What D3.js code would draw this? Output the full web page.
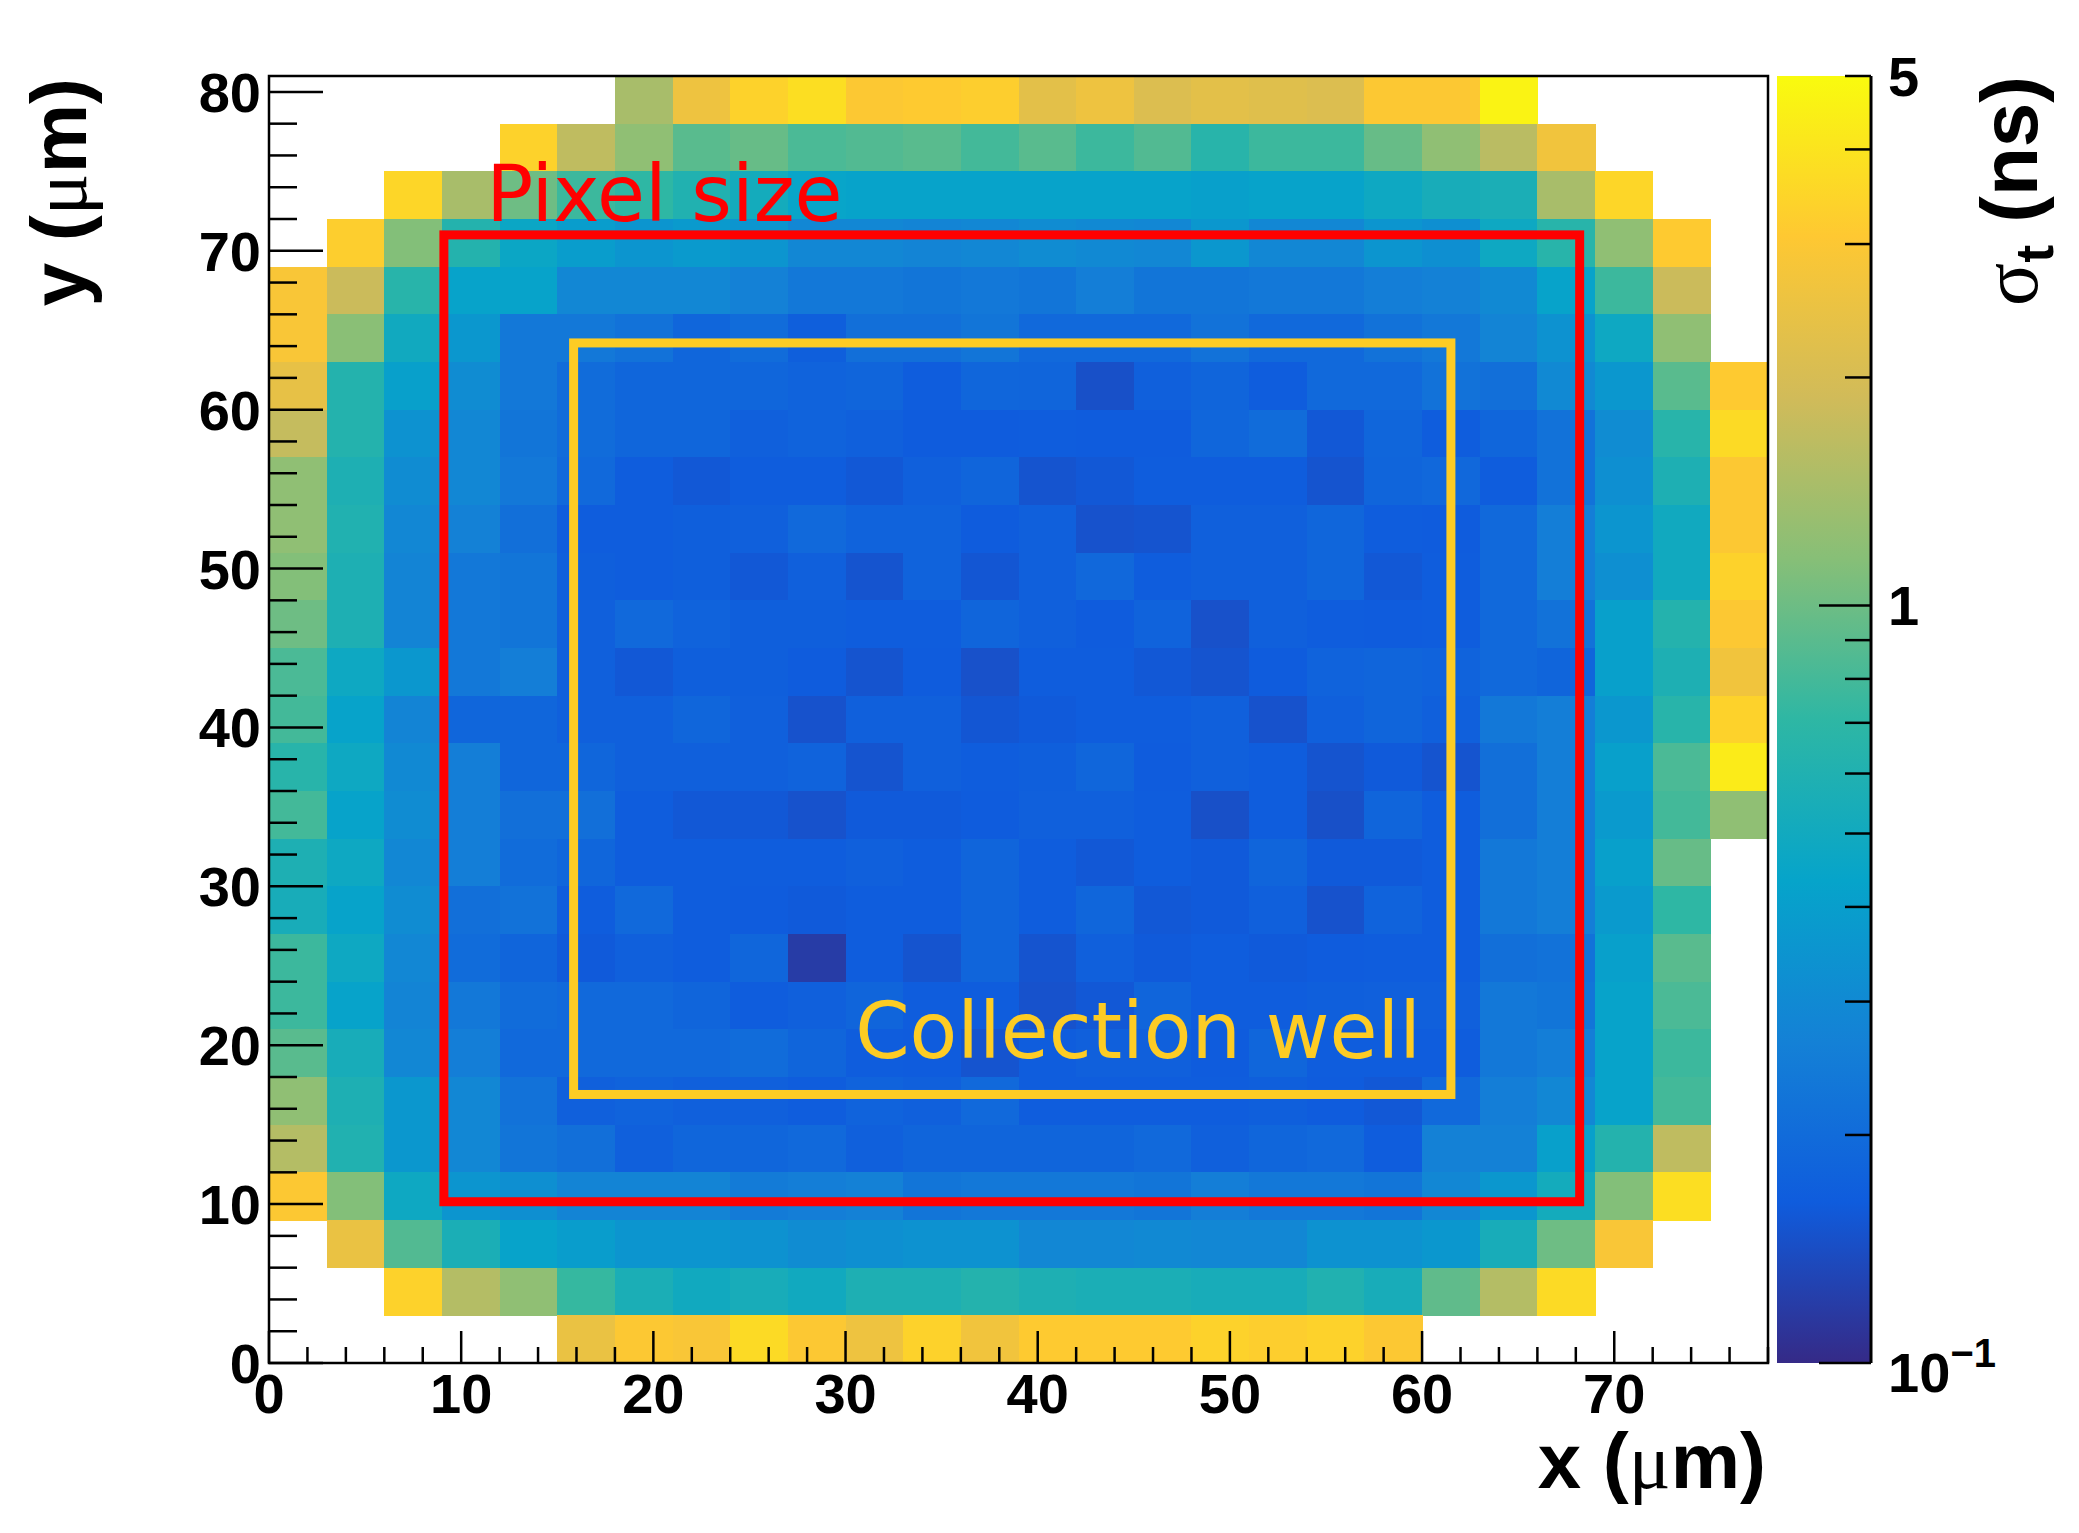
<!DOCTYPE html>
<html>
<head>
<meta charset="utf-8">
<script src="https://cdn.jsdelivr.net/npm/d3@7"></script>
<style>
  body { margin: 0; background: #fff; }
  .num { font-family: "Liberation Sans", Arial, sans-serif; font-weight: bold; }
  .greek { font-family: "Liberation Serif", "DejaVu Serif", serif; font-weight: normal; }
  .note { font-family: "DejaVu Sans", sans-serif; }
</style>
</head>
<body>
<div id="chart"></div>
<script>
// bin edges (um)
const xEdges = [0, 3, 6, 9, 12, 15, 18, 21, 24, 27, 30, 33, 36, 39, 42, 45, 48, 51, 54, 57, 60, 63, 66, 69, 72, 75, 78];
const yEdges = [0, 3, 6, 9, 12, 15, 18, 21, 24, 27, 30, 33, 36, 39, 42, 45, 48, 51, 54, 57, 60, 63, 66, 69, 72, 75, 78, 81];

// sigma_t (ns) per bin, top row (y 78-81) first, left to right; null = empty bin
const sigmaRows = [
  [null, null, null, null, null, null, 1.43, 2.57, 3.38, 3.80, 3.01, 3.13, 3.25, 2.29, 2.57, 2.11, 2.29, 2.20, 2.11, 3.01, 3.01, 4.62, null, null, null, null],
  [null, null, null, null, 3.38, 1.67, 1.22, 0.894, 0.967, 0.827, 0.860, 0.894, 0.795, 0.894, 0.765, 0.860, 0.654, 0.765, 0.765, 0.967, 1.22, 1.61, 2.67, null, null, null],
  [null, null, 3.52, 1.43, 1.006, 0.765, 0.707, 0.605, 0.517, 0.442, 0.425, 0.425, 0.425, 0.425, 0.425, 0.425, 0.409, 0.425, 0.425, 0.478, 0.538, 0.559, 1.43, 3.52, null, null],
  [null, 3.25, 1.13, 0.629, 0.460, 0.393, 0.350, 0.378, 0.350, 0.288, 0.288, 0.277, 0.288, 0.311, 0.299, 0.288, 0.364, 0.288, 0.288, 0.350, 0.323, 0.478, 0.654, 1.22, 3.13, null],
  [2.89, 1.81, 0.654, 0.425, 0.425, 0.288, 0.288, 0.288, 0.266, 0.236, 0.236, 0.227, 0.236, 0.227, 0.256, 0.227, 0.227, 0.236, 0.236, 0.256, 0.266, 0.299, 0.425, 0.765, 1.81, null],
  [2.89, 1.18, 0.497, 0.364, 0.236, 0.236, 0.219, 0.187, 0.202, 0.170, 0.210, 0.210, 0.227, 0.194, 0.194, 0.194, 0.219, 0.194, 0.194, 0.219, 0.236, 0.277, 0.336, 0.478, 1.22, null],
  [2.38, 0.629, 0.409, 0.311, 0.236, 0.202, 0.187, 0.187, 0.187, 0.180, 0.183, 0.166, 0.187, 0.183, 0.145, 0.173, 0.183, 0.166, 0.194, 0.194, 0.219, 0.210, 0.299, 0.364, 0.894, 3.13],
  [1.74, 0.629, 0.336, 0.288, 0.227, 0.202, 0.187, 0.187, 0.173, 0.180, 0.173, 0.163, 0.163, 0.166, 0.163, 0.163, 0.187, 0.202, 0.157, 0.187, 0.166, 0.187, 0.219, 0.311, 0.654, 3.66],
  [1.22, 0.582, 0.311, 0.288, 0.236, 0.194, 0.166, 0.157, 0.166, 0.166, 0.157, 0.173, 0.183, 0.151, 0.157, 0.166, 0.166, 0.166, 0.151, 0.183, 0.191, 0.166, 0.219, 0.323, 0.582, 3.01],
  [1.22, 0.605, 0.288, 0.266, 0.210, 0.166, 0.166, 0.170, 0.173, 0.194, 0.180, 0.180, 0.163, 0.173, 0.148, 0.151, 0.173, 0.173, 0.187, 0.166, 0.163, 0.194, 0.256, 0.350, 0.497, 3.01],
  [1.13, 0.582, 0.277, 0.236, 0.227, 0.170, 0.166, 0.170, 0.157, 0.173, 0.151, 0.180, 0.154, 0.173, 0.191, 0.166, 0.173, 0.173, 0.187, 0.157, 0.166, 0.194, 0.256, 0.323, 0.497, 3.38],
  [1.006, 0.582, 0.277, 0.236, 0.227, 0.173, 0.194, 0.180, 0.170, 0.170, 0.166, 0.166, 0.183, 0.173, 0.163, 0.180, 0.146, 0.173, 0.166, 0.163, 0.166, 0.194, 0.219, 0.409, 0.629, 3.01],
  [0.827, 0.478, 0.364, 0.236, 0.256, 0.173, 0.157, 0.170, 0.170, 0.163, 0.151, 0.163, 0.146, 0.166, 0.166, 0.157, 0.151, 0.163, 0.180, 0.183, 0.180, 0.194, 0.183, 0.409, 0.582, 2.67],
  [0.795, 0.425, 0.277, 0.187, 0.187, 0.173, 0.173, 0.187, 0.173, 0.148, 0.173, 0.173, 0.154, 0.160, 0.166, 0.166, 0.173, 0.148, 0.173, 0.183, 0.173, 0.236, 0.256, 0.364, 0.654, 3.38],
  [0.654, 0.478, 0.299, 0.256, 0.187, 0.187, 0.173, 0.173, 0.173, 0.180, 0.151, 0.173, 0.166, 0.170, 0.187, 0.163, 0.173, 0.166, 0.151, 0.160, 0.151, 0.210, 0.256, 0.409, 0.827, 4.28],
  [0.795, 0.425, 0.311, 0.256, 0.210, 0.210, 0.166, 0.157, 0.157, 0.148, 0.160, 0.160, 0.163, 0.173, 0.173, 0.166, 0.145, 0.166, 0.145, 0.183, 0.166, 0.210, 0.256, 0.378, 0.795, 1.22],
  [0.582, 0.478, 0.288, 0.256, 0.202, 0.187, 0.166, 0.166, 0.166, 0.166, 0.173, 0.166, 0.183, 0.166, 0.157, 0.166, 0.160, 0.183, 0.160, 0.160, 0.166, 0.236, 0.256, 0.409, 0.967, null],
  [0.538, 0.425, 0.311, 0.210, 0.219, 0.166, 0.194, 0.166, 0.163, 0.160, 0.166, 0.166, 0.183, 0.166, 0.187, 0.157, 0.160, 0.173, 0.148, 0.180, 0.166, 0.236, 0.256, 0.378, 0.707, null],
  [0.765, 0.478, 0.288, 0.202, 0.183, 0.160, 0.173, 0.166, 0.187, 0.119, 0.166, 0.151, 0.183, 0.151, 0.173, 0.160, 0.166, 0.160, 0.163, 0.166, 0.166, 0.210, 0.219, 0.409, 0.894, null],
  [0.765, 0.425, 0.277, 0.236, 0.202, 0.194, 0.194, 0.183, 0.166, 0.173, 0.183, 0.166, 0.166, 0.148, 0.157, 0.183, 0.166, 0.166, 0.170, 0.173, 0.173, 0.236, 0.227, 0.425, 0.827, null],
  [0.894, 0.538, 0.288, 0.256, 0.194, 0.194, 0.194, 0.194, 0.202, 0.183, 0.166, 0.163, 0.151, 0.166, 0.173, 0.173, 0.163, 0.187, 0.166, 0.166, 0.166, 0.236, 0.256, 0.425, 0.765, null],
  [1.22, 0.582, 0.364, 0.288, 0.219, 0.173, 0.180, 0.173, 0.173, 0.166, 0.180, 0.173, 0.194, 0.166, 0.166, 0.166, 0.166, 0.170, 0.163, 0.157, 0.194, 0.256, 0.288, 0.425, 0.795, null],
  [1.55, 0.605, 0.364, 0.288, 0.227, 0.210, 0.173, 0.187, 0.187, 0.194, 0.173, 0.183, 0.183, 0.183, 0.183, 0.194, 0.173, 0.187, 0.194, 0.166, 0.266, 0.266, 0.409, 0.629, 1.67, null],
  [3.01, 1.13, 0.478, 0.350, 0.323, 0.277, 0.277, 0.277, 0.246, 0.256, 0.266, 0.227, 0.236, 0.236, 0.236, 0.227, 0.256, 0.236, 0.236, 0.227, 0.288, 0.364, 0.517, 1.13, 3.80, null],
  [null, 2.47, 0.860, 0.559, 0.425, 0.393, 0.350, 0.350, 0.336, 0.311, 0.323, 0.336, 0.336, 0.288, 0.288, 0.299, 0.288, 0.288, 0.336, 0.336, 0.364, 0.538, 1.006, 2.89, null, null],
  [null, null, 3.38, 1.55, 1.22, 0.735, 0.559, 0.497, 0.538, 0.497, 0.582, 0.582, 0.629, 0.582, 0.559, 0.559, 0.538, 0.538, 0.605, 0.538, 0.930, 1.55, 3.66, null, null, null],
  [null, null, null, null, null, 2.47, 3.01, 2.89, 3.66, 3.01, 2.57, 3.38, 2.67, 3.13, 3.13, 3.13, 3.38, 3.25, 3.38, 3.01, null, null, null, null, null, null]
];

// tick labels
const xTickValues = [0, 10, 20, 30, 40, 50, 60, 70];
const yTickValues = [0, 10, 20, 30, 40, 50, 60, 70, 80];
const zMajorTicks = [0.1, 1];
const zMinorTicks = [0.2, 0.3, 0.4, 0.5, 0.6, 0.7, 0.8, 0.9, 2, 3, 4, 5];
const zLabels = [[0.1, "10", "\u22121"], [1, "1", ""], [5, "5", ""]];

// annotation boxes (um)
const pixelBox = [9.1, 10.15, 68.2, 71.0];
const wellBox = [15.85, 16.9, 61.5, 64.2];

// ROOT kBird palette
const birdStops = [0, 0.125, 0.25, 0.375, 0.5, 0.625, 0.75, 0.875, 1];
const birdR = [0.2082, 0.0592, 0.0780, 0.0232, 0.1802, 0.5301, 0.8186, 0.9956, 0.9764];
const birdG = [0.1664, 0.3599, 0.5041, 0.6419, 0.7178, 0.7492, 0.7328, 0.7862, 0.9832];
const birdB = [0.5293, 0.8684, 0.8385, 0.7914, 0.6425, 0.4662, 0.3499, 0.1968, 0.0539];
const birdColors = birdStops.map((s, i) => d3.rgb(birdR[i] * 255, birdG[i] * 255, birdB[i] * 255).formatHex());

const W = 2079, H = 1533;
const frame = { left: 269, right: 1768, top: 76, bottom: 1363 };
const pal = { left: 1777, right: 1871 };

const svg = d3.select("#chart").append("svg")
  .attr("width", W).attr("height", H)
  .style("display", "block");

const x = d3.scaleLinear().domain([0, 78]).range([frame.left, frame.right]);
const y = d3.scaleLinear().domain([0, 81]).range([frame.bottom, frame.top]);
const zNorm = d3.scaleLog().domain([0.1, 5]).range([0, 1]).clamp(true);
const zAxisScale = d3.scaleLog().domain([0.1, 5]).range([frame.bottom, frame.top]);
const bird = d3.scaleLinear().domain(birdStops).range(birdColors).interpolate(d3.interpolateRgb);

// flatten bins
const cells = [];
sigmaRows.forEach((row, r) => {
  const j = sigmaRows.length - 1 - r;
  row.forEach((v, i) => {
    if (v !== null) cells.push({ x0: xEdges[i], x1: xEdges[i + 1], y0: yEdges[j], y1: yEdges[j + 1], v: v });
  });
});

// frame background
svg.append("rect")
  .attr("x", frame.left).attr("y", frame.top)
  .attr("width", frame.right - frame.left).attr("height", frame.bottom - frame.top)
  .attr("fill", "#fff");

svg.append("g")
  .selectAll("rect")
  .data(cells)
  .join("rect")
  .attr("x", d => x(d.x0))
  .attr("y", d => y(d.y1))
  .attr("width", d => x(d.x1) - x(d.x0) + 0.5)
  .attr("height", d => y(d.y0) - y(d.y1) + 0.5)
  .attr("fill", d => bird(zNorm(d.v)))
  .attr("shape-rendering", "crispEdges");

// frame
svg.append("rect")
  .attr("x", frame.left).attr("y", frame.top)
  .attr("width", frame.right - frame.left).attr("height", frame.bottom - frame.top)
  .attr("fill", "none").attr("stroke", "#000").attr("stroke-width", 2.5);

// x ticks (pointing up inside the frame)
const xg = svg.append("g");
xg.selectAll("line.minor")
  .data(d3.range(0, 79, 2))
  .join("line")
  .attr("x1", d => x(d)).attr("x2", d => x(d))
  .attr("y1", frame.bottom).attr("y2", d => frame.bottom - (d % 10 === 0 ? 32 : 16))
  .attr("stroke", "#000").attr("stroke-width", 2.5);
xg.selectAll("text")
  .data(xTickValues)
  .join("text")
  .attr("class", "num")
  .attr("x", d => x(d)).attr("y", 1413)
  .attr("text-anchor", "middle")
  .attr("font-size", 56)
  .text(d => d);

// y ticks (pointing right)
const yg = svg.append("g");
yg.selectAll("line")
  .data(d3.range(0, 81, 2))
  .join("line")
  .attr("x1", frame.left).attr("x2", d => frame.left + (d % 10 === 0 ? 54 : 28))
  .attr("y1", d => y(d)).attr("y2", d => y(d))
  .attr("stroke", "#000").attr("stroke-width", 2.5);
yg.selectAll("text")
  .data(yTickValues)
  .join("text")
  .attr("class", "num")
  .attr("x", 261).attr("y", d => y(d) + 20)
  .attr("text-anchor", "end")
  .attr("font-size", 56)
  .text(d => d);

// axis titles
const xt = svg.append("text")
  .attr("class", "num")
  .attr("x", 1766).attr("y", 1488)
  .attr("text-anchor", "end")
  .attr("font-size", 78);
xt.append("tspan").text("x (");
xt.append("tspan").attr("class", "greek").text("\u03bc");
xt.append("tspan").text("m)");

const yt = svg.append("text")
  .attr("class", "num")
  .attr("transform", `translate(86,${frame.top + 2}) rotate(-90)`)
  .attr("text-anchor", "end")
  .attr("font-size", 78);
yt.append("tspan").text("y (");
yt.append("tspan").attr("class", "greek").text("\u03bc");
yt.append("tspan").text("m)");

// palette
const grad = svg.append("defs").append("linearGradient")
  .attr("id", "bird-grad")
  .attr("x1", 0).attr("y1", 1).attr("x2", 0).attr("y2", 0);
grad.selectAll("stop")
  .data(birdStops)
  .join("stop")
  .attr("offset", d => d)
  .attr("stop-color", (d, i) => birdColors[i]);

svg.append("rect")
  .attr("x", pal.left).attr("y", frame.top)
  .attr("width", pal.right - pal.left).attr("height", frame.bottom - frame.top)
  .attr("fill", "url(#bird-grad)");

svg.append("line")
  .attr("x1", pal.right).attr("x2", pal.right)
  .attr("y1", frame.top).attr("y2", frame.bottom)
  .attr("stroke", "#000").attr("stroke-width", 3);

const zg = svg.append("g");
zg.selectAll("line.major")
  .data(zMajorTicks)
  .join("line")
  .attr("class", "major")
  .attr("x1", pal.right).attr("x2", pal.right - 52)
  .attr("y1", d => zAxisScale(d)).attr("y2", d => zAxisScale(d))
  .attr("stroke", "#000").attr("stroke-width", 2.5);
zg.selectAll("line.minor")
  .data(zMinorTicks)
  .join("line")
  .attr("class", "minor")
  .attr("x1", pal.right).attr("x2", pal.right - 26)
  .attr("y1", d => zAxisScale(d)).attr("y2", d => zAxisScale(d))
  .attr("stroke", "#000").attr("stroke-width", 2.5);

zLabels.forEach(([v, base, sup]) => {
  const t = zg.append("text")
    .attr("class", "num")
    .attr("x", 1888)
    .attr("y", zAxisScale(v) + (sup ? 29 : 20))
    .attr("font-size", 56);
  t.append("tspan").text(base);
  if (sup) t.append("tspan").attr("dy", -25).attr("font-size", 40).text(sup);
});

// palette title
const zt = svg.append("text")
  .attr("class", "num")
  .attr("transform", `translate(2037,${frame.top}) rotate(-90)`)
  .attr("text-anchor", "end")
  .attr("font-size", 80);
zt.append("tspan").attr("class", "greek").text("\u03c3");
zt.append("tspan").attr("font-size", 54).attr("dy", 16).text("t");
zt.append("tspan").attr("dy", -16).text(" (ns)");

// annotation boxes
svg.append("rect")
  .attr("x", x(pixelBox[0])).attr("y", y(pixelBox[3]))
  .attr("width", x(pixelBox[2]) - x(pixelBox[0]))
  .attr("height", y(pixelBox[1]) - y(pixelBox[3]))
  .attr("fill", "none").attr("stroke", "#ff0000").attr("stroke-width", 9);

svg.append("rect")
  .attr("x", x(wellBox[0])).attr("y", y(wellBox[3]))
  .attr("width", x(wellBox[2]) - x(wellBox[0]))
  .attr("height", y(wellBox[1]) - y(wellBox[3]))
  .attr("fill", "none").attr("stroke", "#fdcc24").attr("stroke-width", 9);

svg.append("text")
  .attr("class", "note")
  .attr("x", x(11.3)).attr("y", y(71.87))
  .attr("font-size", 78)
  .attr("fill", "#ff0000")
  .text("Pixel size");

svg.append("text")
  .attr("class", "note")
  .attr("x", x(30.5)).attr("y", y(19.2))
  .attr("font-size", 78)
  .attr("fill", "#fdcc24")
  .text("Collection well");
</script>
</body>
</html>
